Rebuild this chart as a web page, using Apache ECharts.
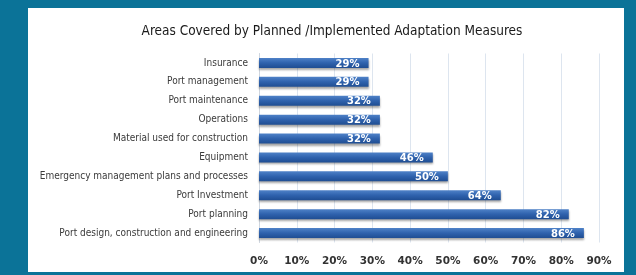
<!DOCTYPE html>
<html><head><meta charset="utf-8">
<style>html,body{margin:0;padding:0;background:#0b7398;}#c{width:636px;height:275px;}</style>
<script src="https://cdn.jsdelivr.net/npm/echarts@6/dist/echarts.min.js"></script>
</head><body><div id="c"></div>
<script>
const categories = ["Insurance","Port management","Port maintenance","Operations","Material used for construction","Equipment","Emergency management plans and processes","Port Investment","Port planning","Port design, construction and engineering"];
const values = [29,29,32,32,32,46,50,64,82,86];
const title = "Areas Covered by Planned /Implemented Adaptation Measures";
const narrow = "'Liberation Sans Narrow','DejaVu Sans Condensed','Liberation Sans',sans-serif";

const chart = echarts.init(document.getElementById('c'), null, {renderer:'canvas'});
chart.setOption({
  backgroundColor: '#0b7398',
  animation: false,
  graphic: [{type:'rect', z:-10, shape:{x:28,y:8,width:596,height:264}, style:{fill:'#ffffff'}}],
  title: {text: title, left: 327, textAlign:'center', top: 19,
    textStyle:{fontFamily:narrow, fontSize:13.5, fontWeight:'normal', color:'#1a1a1a'}},
  grid: {left: 259, right: 37, top: 53.5, bottom: 32.5, containLabel:false},
  xAxis: {type:'value', min:0, max:90, interval:10,
    axisLine:{show:false}, axisTick:{show:false},
    splitLine:{lineStyle:{color:'#dde5ef', width:1}},
    axisLabel:{formatter:'{value}%', fontFamily:'DejaVu Sans', fontWeight:'bold', fontSize:10.5, color:'#333', margin:13}},
  yAxis: {type:'category', data: categories, inverse:true,
    axisLine:{show:true, lineStyle:{color:'#cfd6df'}}, axisTick:{show:false},
    axisLabel:{fontFamily:narrow, fontSize:10, color:'#3a3a3a', margin:11}},
  series: [{type:'bar', data: values, barWidth: 10,
    itemStyle:{color: new echarts.graphic.LinearGradient(0,0,0,1,[{offset:0,color:'#4f82c8'},{offset:0.5,color:'#2f62ad'},{offset:1,color:'#1f4d92'}]),
      shadowColor:'rgba(0,0,0,0.35)', shadowBlur:2, shadowOffsetY:2},
    label:{show:true, position:'insideRight', distance:9, formatter:'{c}%', color:'#ffffff', fontFamily:'DejaVu Sans', fontWeight:'bold', fontSize:10, offset:[0,1]}}]
});
</script></body></html>
